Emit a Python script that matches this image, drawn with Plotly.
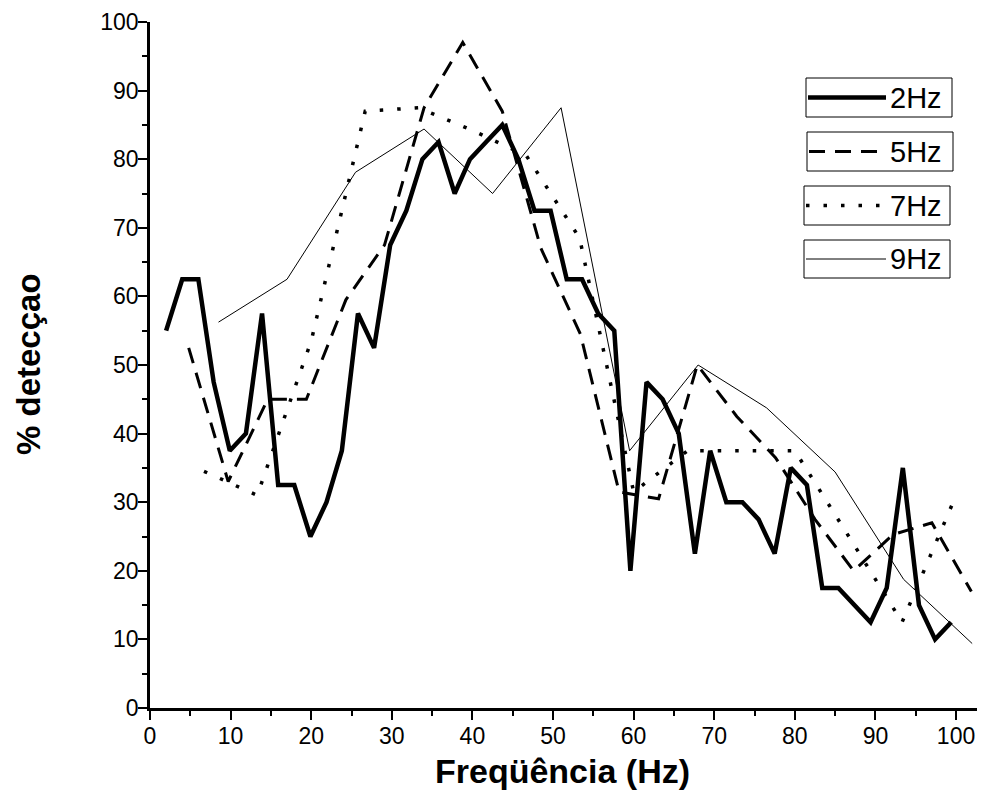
#detection rate per frequency, one line per stimulation rate
import plotly.graph_objects as go

#%%
#data
freq_2hz = [2.0, 4.0, 6.0, 7.9, 9.9, 11.9, 13.9, 15.9, 17.9, 19.9, 21.9, 23.8, 25.8, 27.8, 29.8, 31.8, 33.8, 35.8, 37.8, 39.7,
            41.7, 43.7, 45.7, 47.7, 49.7, 51.7, 53.6, 55.6, 57.6, 59.6, 61.6, 63.6, 65.6, 67.6, 69.5, 71.5, 73.5, 75.5, 77.5, 79.5,
            81.5, 83.4, 85.4, 87.4, 89.4, 91.4, 93.4, 95.4, 97.4, 99.4]
det_2hz = [55, 62.5, 62.5, 47.5, 37.5, 40, 57.5, 32.5, 32.5, 25, 30, 37.5, 57.5, 52.5, 67.5, 72.5, 80, 82.5, 75, 80,
           82.5, 85, 80, 72.5, 72.5, 62.5, 62.5, 57.5, 55, 20, 47.5, 45, 40, 22.5, 37.5, 30, 30, 27.5, 22.5, 35,
           32.5, 17.5, 17.5, 15, 12.5, 17.5, 35, 15, 10, 12.5]

freq_5hz = [4.8, 9.7, 14.6, 19.4, 24.3, 29.1, 34.0, 38.8, 43.7, 48.5, 53.4, 58.2, 63.1, 67.9, 72.8, 77.6, 82.5, 87.3, 92.2, 97.0, 101.9]
det_5hz = [52.5, 33, 45, 45, 59.5, 67.5, 87.5, 97, 87, 67, 54.5, 31.5, 30.5, 50, 42.5, 36.5, 27.5, 20, 25.3, 27, 17]

freq_7hz = [6.7, 13.3, 20.0, 26.7, 33.3, 40.0, 46.7, 53.3, 60.0, 66.7, 73.3, 80.0, 86.7, 93.3, 100.0]
det_7hz = [34.5, 31, 53.5, 87, 87.5, 84.2, 80.5, 68.5, 31.5, 37.5, 37.5, 37.5, 25, 12.5, 31]

freq_9hz = [8.5, 17.0, 25.5, 34.0, 42.5, 51.0, 59.5, 68.0, 76.5, 85.0, 93.5, 102.0]
det_9hz = [56.25, 62.5, 78.1, 84.4, 75, 87.5, 37.5, 50, 43.75, 34.4, 18.75, 9.4]

x_ticks = [0, 10, 20, 30, 40, 50, 60, 70, 80, 90, 100]
y_ticks = [0, 10, 20, 30, 40, 50, 60, 70, 80, 90, 100]

labels = ['2Hz', '5Hz', '7Hz', '9Hz']

#%%
#style per series (width, dash)
styles = {
    '2Hz': dict(width=4.5, dash='solid'),
    '5Hz': dict(width=3, dash='16px,10px'),
    '7Hz': dict(width=3.5, dash='3.5px,14px'),
    '9Hz': dict(width=1, dash='solid'),
}
series = {'2Hz': (freq_2hz, det_2hz), '5Hz': (freq_5hz, det_5hz),
          '7Hz': (freq_7hz, det_7hz), '9Hz': (freq_9hz, det_9hz)}

FONT = 'Liberation Sans, Arial, sans-serif'
W, H = 995, 812
#page has an 8px body margin, so margins are set 8px smaller on top/left
L, R, T, B = 142, 26, 14, 112
OFF = 8

fig = go.Figure()
for name in labels[::-1]:
    xs, ys = series[name]
    fig.add_trace(go.Scatter(x=xs, y=ys, mode='lines', name=name, showlegend=False,
                             line=dict(color='black', **styles[name])))

#%%
#legend drawn by hand: one framed box per series, like the original
def px_x(p):
    return (p - OFF - L) / (W - L - R)

def px_y(p):
    return (H - B - (p - OFF)) / (H - B - T)

boxes = [(806, 78, 952, 117), (807, 132, 953, 171), (804, 186, 950, 225), (804, 240, 950, 278)]
shapes = []
annotations = []
for name, (x0, y0, x1, y1) in zip(labels, boxes):
    shapes.append(dict(type='rect', xref='paper', yref='paper', x0=px_x(x0), x1=px_x(x1), y0=px_y(y1), y1=px_y(y0),
                       line=dict(color='black', width=1), fillcolor='white', layer='above'))
    ym = px_y((y0 + y1) / 2)
    shapes.append(dict(type='line', xref='paper', yref='paper', x0=px_x(x0 + 2), x1=px_x(886), y0=ym, y1=ym,
                       line=dict(color='black', width=styles[name]['width'], dash=styles[name]['dash']), layer='above'))
    annotations.append(dict(text=name, xref='paper', yref='paper', x=px_x(888), y=ym, xanchor='left', yanchor='middle',
                            showarrow=False, font=dict(family=FONT, size=29, color='black')))

#axis titles as annotations so they sit where the original has them
annotations.append(dict(text='<b>Freqüência (Hz)</b>', xref='paper', yref='paper', x=px_x(562), y=px_y(771),
                        xanchor='center', yanchor='middle', showarrow=False, font=dict(family=FONT, size=34)))
annotations.append(dict(text='<b>% detecçao</b>', xref='paper', yref='paper', x=px_x(29), y=px_y(364), textangle=-90,
                        xanchor='center', yanchor='middle', showarrow=False, font=dict(family=FONT, size=33)))

fig.update_layout(
    width=W, height=H,
    margin=dict(l=L, r=R, t=T, b=B),
    plot_bgcolor='white', paper_bgcolor='white',
    font=dict(family=FONT, color='black'),
    shapes=shapes, annotations=annotations,
    xaxis=dict(range=[0, 102.6], tickvals=x_ticks, ticks='outside', ticklen=9, tickwidth=2, tickcolor='black',
               showline=True, linewidth=2.5, linecolor='black', showgrid=False, zeroline=False,
               tickfont=dict(size=23, family=FONT), automargin=False, ticklabelstandoff=-3,
               minor=dict(dtick=5, ticks='outside', ticklen=5, tickwidth=2, tickcolor='black')),
    yaxis=dict(range=[0, 100], tickvals=y_ticks, ticks='outside', ticklen=9, tickwidth=2, tickcolor='black',
               showline=True, linewidth=2.5, linecolor='black', showgrid=False, zeroline=False,
               tickfont=dict(size=23, family=FONT), automargin=False, ticklabelstandoff=-5,
               minor=dict(dtick=5, ticks='outside', ticklen=5, tickwidth=2, tickcolor='black')),
)

fig.write_html("out.html")
